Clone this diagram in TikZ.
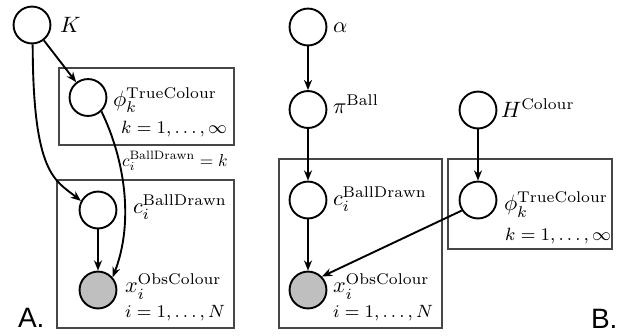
\documentclass[tikz,border=0pt]{standalone}
\usepackage{fontspec}
\usepackage{graphicx}
\newfontfamily\panelfont{Liberation Sans}
\usetikzlibrary{arrows.meta}
\tikzset{
  var/.style={circle, draw=black, line width=0.85pt, minimum size=16.6pt, inner sep=0pt},
  obs/.style={var, fill=black!25},
  arr/.style={line width=0.85pt, -{Stealth[length=4.6pt,width=3.6pt]}},
  plate/.style={draw=black!72, line width=0.65pt},
  lab/.style={inner sep=0pt, outer sep=0pt},
  platelab/.style={lab, font=\footnotesize},
  panel/.style={lab, font=\panelfont\fontsize{12.6}{14}\selectfont}
}
\begin{document}
\begin{tikzpicture}[x=0.45pt, y=-0.45pt]
\useasboundingbox (0,0) rectangle (623,335);
% plates
\draw[plate] (59,68) rectangle (234,145);
\draw[plate] (57,180) rectangle (234,328);
\draw[plate] (279,159) rectangle (442,328);
\draw[plate] (448,159) rectangle (612,249);
% panel A nodes
\node[var] (K) at (32,25) {};
\node[var] (phiA) at (88,97.5) {};
\node[var] (cA) at (98,210) {};
\node[obs] (xA) at (98,290) {};
% panel B nodes
\node[var] (alpha) at (308,27) {};
\node[var] (pi) at (308,109.5) {};
\node[var] (cB) at (308,200) {};
\node[obs] (xB) at (308,290) {};
\node[var] (H) at (478,110) {};
\node[var] (phiB) at (478,200) {};
% labels A
\node[lab, anchor=west] (lK) at (60,25) {$K$};
\node[lab, anchor=west] (lphiA) at (113,100) {$\phi_k^{\mathrm{TrueColour}}$};
\node[platelab, anchor=east] (lkA) at (227,129) {$k=1,\ldots,\infty$};
\node[lab, anchor=west] (ledge) at (122,161) {\scalebox{0.78}{$c_i^{\mathrm{BallDrawn}}=k$}};
\node[lab, anchor=west] (lcA) at (133,207.5) {$c_i^{\mathrm{BallDrawn}}$};
\node[lab, anchor=west] (lxA) at (125,286.5) {$x_i^{\mathrm{ObsColour}}$};
\node[platelab, anchor=east] (liA) at (225,313.5) {$i=1,\ldots,N$};
\node[panel, anchor=base west] (lA) at (18,327) {A.};
% labels B
\node[lab, anchor=west] (lalpha) at (333,27.5) {$\alpha$};
\node[lab, anchor=west] (lpi) at (333,104) {$\pi^{\mathrm{Ball}}$};
\node[lab, anchor=west] (lcB) at (333,199.5) {$c_i^{\mathrm{BallDrawn}}$};
\node[lab, anchor=west] (lxB) at (333,286.5) {$x_i^{\mathrm{ObsColour}}$};
\node[platelab, anchor=east] (liB) at (433,313.5) {$i=1,\ldots,N$};
\node[lab, anchor=west] (lH) at (501,108) {$H^{\mathrm{Colour}}$};
\node[lab, anchor=west] (lphiB) at (504,204.5) {$\phi_k^{\mathrm{TrueColour}}$};
\node[platelab, anchor=east] (lkB) at (611,236) {$k=1,\ldots,\infty$};
\node[panel, anchor=base west] (lB) at (591,328) {B.};
% edges A
\draw[arr] (K) -- (phiA);
\draw[arr] (K.-88) .. controls (33,175) and (55,180) .. (cA.152);
\draw[arr] (phiA.-46) .. controls (125,160) and (134,222) .. (xA.41);
\draw[arr] (cA) -- (xA);
% edges B
\draw[arr] (alpha) -- (pi);
\draw[arr] (pi) -- (cB);
\draw[arr] (cB) -- (xB);
\draw[arr] (H) -- (phiB);
\draw[arr] (phiB.213) -- (xB.44);
\end{tikzpicture}
\end{document}
